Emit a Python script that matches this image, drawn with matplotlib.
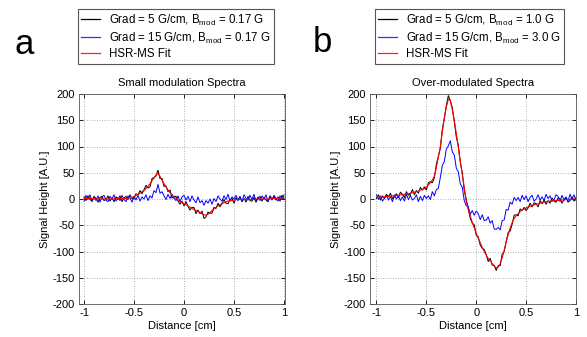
import numpy as np
import matplotlib
matplotlib.use("Agg")
import matplotlib.pyplot as plt
from matplotlib.lines import Line2D
from matplotlib.ticker import FuncFormatter

plt.rcParams['font.family'] = ['Liberation Sans', 'DejaVu Sans']
plt.rcParams['mathtext.fontset'] = 'custom'
plt.rcParams['mathtext.rm'] = 'Liberation Sans'
plt.rcParams['mathtext.it'] = 'Liberation Sans'
plt.rcParams['axes.unicode_minus'] = False

# sample positions (cm), 101 points
distance = np.linspace(-1.0, 1.0, 101)

# panel a: small modulation
a_black = [4, -3, 6, -1, -4, 5, 1, -6, 3, 5, -3, -1, 6, -4, 2, -5, 4, -1, 6, -5,
           2, 5, -1, 8, 1, 0, 10, 8, 16, 10, 18, 26, 21, 23, 39, 41, 44, 55, 39, 39,
           24, 25, 14, 17, 2, 5, 5, -4, -10, -4, -13, -5, -14, -21, -16, -16, -28, -21, -28, -23,
           -37, -34, -25, -27, -27, -16, -18, -8, -15, -8, -1, -8, -9, -1, 1, -8, 2, -2, 4, -5,
           1, -6, 5, -3, -4, 3, -6, 1, 5, -4, 3, -2, -5, 6, 0, 5, -2, 4, -4, 7, 0]
a_blue = [-4, 7, -1, 8, -5, 3, -3, 6, -6, 4, 7, -2, -5, 5, 0, 8, -4, 3, -3, 7,
          -1, -5, 6, 2, -6, 5, -2, 7, -4, 4, 0, 8, -3, 6, 2, 16, 12, 28, 11, 14,
          6, -1, 9, 1, 9, 1, -3, 6, -5, 4, 7, -2, 5, -5, 6, -2, -7, 4, -7, -3,
          -12, -3, -8, 0, -10, 1, -5, 6, 0, -4, 6, -1, 9, -4, 4, 0, 7, -3, 5, -5,
          8, 1, -2, 7, -1, 9, -4, 4, -3, 6, 0, 8, -5, 5, -2, 7, 1, -4, 6, -1, 8]
a_fit = [1, 1, 1, 1, 1, 1, 0, 0, 0, 0, 0, 0, 0, 0, 0, 0, 0, 1, 1, 1,
         1, 1, 2, 2, 3, 5, 7, 9, 11, 14, 16, 20, 24, 29, 35, 40, 46, 48, 43, 36,
         29, 23, 17, 12, 8, 4, 1, -2, -5, -7, -9, -11, -13, -16, -18, -20, -22, -24, -26, -28,
         -30, -31, -29, -26, -22, -19, -16, -13, -11, -9, -7, -5, -4, -3, -3, -2, -1, -1, -1, -1,
         -1, -1, -1, -1, -1, -1, 0, 0, 0, 0, 0, 0, 0, 0, 1, 1, 1, 2, 2, 2, 2]

# panel b: over-modulated
b_black = [1, 8, -2, 6, 1, 9, 4, 11, 1, 4, 10, 3, 13, 9, 3, 14, 7, 9, 18, 8,
           16, 11, 22, 17, 23, 17, 31, 33, 31, 40, 66, 81, 96, 133, 153, 178, 197, 187, 174, 147,
           118, 103, 70, 50, 16, -1, -18, -37, -46, -49, -69, -72, -88, -94, -96, -106, -119, -113, -126, -126,
           -136, -127, -127, -105, -100, -81, -64, -61, -48, -31, -30, -32, -19, -22, -16, -22, -17, -8, -15, -7,
           -9, -15, -3, -9, -2, -10, -3, -8, 2, -4, -6, 2, 1, -8, -1, 3, -6, -3, 4, -4, 3]
b_blue = [8, -1, 6, -4, 1, 7, -2, 5, -5, 8, 0, 6, -3, 4, -4, 9, -1, 7, -2, 1,
          8, -5, 5, -3, 7, 1, 6, -1, 14, 6, 18, 20, 41, 64, 71, 95, 101, 111, 90, 84,
          59, 52, 29, 22, -3, -13, -14, -29, -22, -31, -23, -28, -39, -30, -41, -40, -34, -46, -41, -57,
          -58, -54, -59, -41, -40, -20, -21, -6, -10, 3, -3, 3, -5, 7, -1, 6, -5, 3, 7, -4,
          0, 8, -2, 4, -3, 9, 1, 6, -4, -1, 8, 5, -5, 7, -2, 4, -4, 9, 0, 8, -3]
b_fit = [3, 3, 4, 4, 4, 5, 5, 5, 6, 6, 7, 7, 8, 8, 9, 10, 10, 11, 12, 13,
         14, 15, 17, 18, 20, 23, 27, 31, 36, 43, 60, 80, 100, 128, 155, 175, 190, 188, 170, 150,
         125, 98, 72, 47, 22, -5, -20, -32, -45, -55, -65, -75, -83, -92, -100, -107, -113, -118, -123, -128,
         -131, -130, -123, -112, -98, -82, -68, -55, -45, -37, -32, -28, -24, -21, -19, -17, -15, -14, -12, -11,
         -10, -9, -8, -7, -6, -5, -5, -4, -4, -3, -3, -3, -2, -2, -2, -1, -1, -1, -1, 0, 0]

panels = [
    dict(letter='a', title='Small modulation Spectra', black=a_black, blue=a_blue, fit=a_fit,
         labels=['Grad = 5 G/cm, B$_{\\mathrm{mod}}$ = 0.17 G',
                 'Grad = 15 G/cm, B$_{\\mathrm{mod}}$ = 0.17 G', 'HSR-MS Fit'],
         left=79, xlim=(-1.05, 1.01), leg=(78, 9), lpos=(24, 44)),
    dict(letter='b', title='Over-modulated Spectra', black=b_black, blue=b_blue, fit=b_fit,
         labels=['Grad = 5 G/cm, B$_{\\mathrm{mod}}$ = 1.0 G',
                 'Grad = 15 G/cm, B$_{\\mathrm{mod}}$ = 3.0 G', 'HSR-MS Fit'],
         left=370, xlim=(-1.065, 1.0), leg=(375, 9), lpos=(322, 42)),
]
colors = ['#000000', '#3030ff', '#ff2020']

W, H = 587, 337
fig = plt.figure(figsize=(W / 100, H / 100), dpi=100)

for p in panels:
    ax = fig.add_axes([p['left'] / W, 1 - 304 / H, 206 / W, 210 / H])
    ax.plot(distance, p['black'], color='black', lw=0.7)
    ax.plot(distance, p['blue'], color='#0000ff', lw=0.7)
    ax.plot(distance, p['fit'], color='#ff0000', lw=0.8)
    ax.set_xlim(*p['xlim'])
    ax.set_ylim(-200, 200)
    ax.set_xticks([-1, -0.5, 0, 0.5, 1])
    ax.set_yticks(range(-200, 201, 50))
    ax.xaxis.set_major_formatter(FuncFormatter(lambda v, _: '%g' % v))
    ax.tick_params(direction='in', top=True, right=True, labelsize=8, length=3, width=0.6, pad=3)
    ax.grid(True, linestyle=(0, (1, 2)), color='#999999', lw=0.6)
    for s in ax.spines.values():
        s.set_linewidth(0.6)
        s.set_color('#555555')
    ax.set_title(p['title'], fontsize=8, pad=6)
    ax.set_xlabel('Distance [cm]', fontsize=8, labelpad=2)
    ax.set_ylabel('Signal Height [A.U.]', fontsize=8, labelpad=2)

    handles = [Line2D([], [], color=c, lw=0.9) for c in colors]
    x0, y0 = p['leg']
    leg = fig.legend(handles, p['labels'], loc='upper left',
                     bbox_to_anchor=(x0 / W, 1 - y0 / H), fontsize=8.3,
                     handlelength=1.6, handletextpad=0.8, borderpad=0.3,
                     labelspacing=0.25, fancybox=False, framealpha=1, borderaxespad=0)
    leg.get_frame().set_edgecolor('#555555')
    leg.get_frame().set_linewidth(0.8)
    fig.text(p['lpos'][0] / W, 1 - p['lpos'][1] / H, p['letter'], fontsize=25,
             ha='center', va='center')

fig.savefig('out.png', dpi=100)
